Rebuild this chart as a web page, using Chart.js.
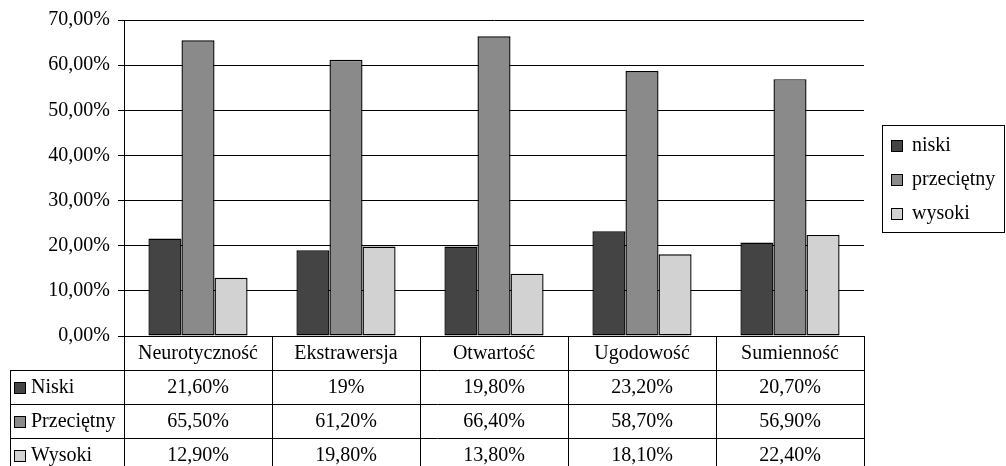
<!DOCTYPE html>
<html>
<head>
<meta charset="utf-8">
<script src="https://cdn.jsdelivr.net/npm/chart.js@4"></script>
<style>
  body { margin: 0; background: #fff; }
  #wrap { width: 1006px; height: 466px; position: relative; }
</style>
</head>
<body>
<div id="wrap"><canvas id="chartBars"></canvas></div>
<script>
// dane z wykresu
var categories = ['Neurotyczność', 'Ekstrawersja', 'Otwartość', 'Ugodowość', 'Sumienność'];
var niski = [21.6, 19, 19.8, 23.2, 20.7];
var przecietny = [65.5, 61.2, 66.4, 58.7, 56.9];
var wysoki = [12.9, 19.8, 13.8, 18.1, 22.4];
var seriesNames = ['niski', 'przeciętny', 'wysoki'];
var rowNames = ['Niski', 'Przeciętny', 'Wysoki'];
var yTicks = [0, 10, 20, 30, 40, 50, 60, 70];

var colors = ['#444444', '#8a8a8a', '#d2d2d2'];
var FAMILY = '"Liberation Serif", "Times New Roman", serif';
var FONT = '20px ' + FAMILY;

function pct(v) {
    if (Number.isInteger(v)) return v + '%';
    return v.toFixed(2).replace('.', ',') + '%';
}

// tabela danych pod wykresem + legenda w ramce
var tablePlugin = {
    id: 'dataTable',
    afterDraw: function (chart) {
        var ctx = chart.ctx;
        var x = chart.scales.x;
        var area = chart.chartArea;
        var n = categories.length;
        var colW = (x.right - x.left) / n;
        var top = Math.round(area.bottom);
        var rowH = 34;
        var left = 10;
        var bottom = chart.height;
        var all = [niski, przecietny, wysoki];

        ctx.save();
        ctx.strokeStyle = '#000';
        ctx.lineWidth = 1;
        ctx.beginPath();
        // pionowe linie kolumn
        for (var i = 0; i <= n; i++) {
            var px = Math.round(x.left + i * colW) + 0.5;
            ctx.moveTo(px, top);
            ctx.lineTo(px, bottom);
        }
        // lewa krawedz wierszy
        ctx.moveTo(left + 0.5, top + rowH);
        ctx.lineTo(left + 0.5, bottom);
        // poziome linie
        for (var r = 1; r <= 3; r++) {
            var py = top + r * rowH + 0.5;
            ctx.moveTo(left, py);
            ctx.lineTo(Math.round(x.right) + 1, py);
        }
        ctx.stroke();

        ctx.font = FONT;
        ctx.fillStyle = '#000';
        ctx.textBaseline = 'middle';
        ctx.textAlign = 'center';
        for (var c = 0; c < n; c++) {
            var cx = x.getPixelForValue(c);
            ctx.fillText(categories[c], cx, top + rowH / 2 + 1);
            for (var s = 0; s < all.length; s++) {
                ctx.fillText(pct(all[s][c]), cx, top + rowH * (s + 1) + rowH / 2 + 1);
            }
        }
        ctx.textAlign = 'left';
        for (var s2 = 0; s2 < rowNames.length; s2++) {
            var cy = top + rowH * (s2 + 1) + rowH / 2;
            ctx.fillStyle = colors[s2];
            ctx.fillRect(14.5, Math.round(cy - 5) + 0.5, 11, 11);
            ctx.strokeRect(14.5, Math.round(cy - 5) + 0.5, 11, 11);
            ctx.fillStyle = '#000';
            ctx.fillText(rowNames[s2], 31, cy + 1);
        }

        // legenda
        var lx = 882.5, ly = 125.5, lw = 122, lh = 107;
        ctx.strokeRect(lx, ly, lw, lh);
        for (var k = 0; k < seriesNames.length; k++) {
            var ky = 146 + k * 34;
            ctx.fillStyle = colors[k];
            ctx.fillRect(891.5, ky - 5.5, 11, 11);
            ctx.strokeRect(891.5, ky - 5.5, 11, 11);
            ctx.fillStyle = '#000';
            ctx.fillText(seriesNames[k], 912, ky);
        }
        ctx.restore();
    }
};

var databar = {
    labels: categories,
    datasets: [
        { label: seriesNames[0], data: niski, backgroundColor: colors[0] },
        { label: seriesNames[1], data: przecietny, backgroundColor: colors[1] },
        { label: seriesNames[2], data: wysoki, backgroundColor: colors[2] }
    ]
};
databar.datasets.forEach(function (d) {
    d.borderColor = '#000';
    d.borderWidth = 1.4;
    d.borderSkipped = false;
    d.categoryPercentage = 0.67;
    d.barPercentage = 1;
});

var optionbar = {
    maintainAspectRatio: false,
    responsive: true,
    animation: false,
    layout: { padding: { top: 20, right: 142, left: 0, bottom: 0 } },
    plugins: {
        legend: { display: false },
        tooltip: { enabled: false }
    },
    scales: {
        x: {
            grid: { display: false },
            border: { display: true, color: '#000' },
            ticks: { display: false },
            afterFit: function (scale) { scale.height = 130; }
        },
        y: {
            min: 0,
            max: 70,
            afterBuildTicks: function (scale) {
                scale.ticks = yTicks.map(function (v) { return { value: v }; });
            },
            grid: { color: '#000', tickLength: 6, tickColor: '#000' },
            border: { display: true, color: '#000' },
            ticks: {
                color: '#000',
                padding: 8,
                font: { family: FAMILY, size: 20 },
                callback: function (v) { return v.toFixed(2).replace('.', ',') + '%'; }
            },
            afterFit: function (scale) { scale.width = 124; }
        }
    }
};

var ctx = document.getElementById('chartBars');
var myBarChart = new Chart(ctx, {
    type: 'bar',
    data: databar,
    options: optionbar,
    plugins: [tablePlugin]
});
</script>
</body>
</html>
